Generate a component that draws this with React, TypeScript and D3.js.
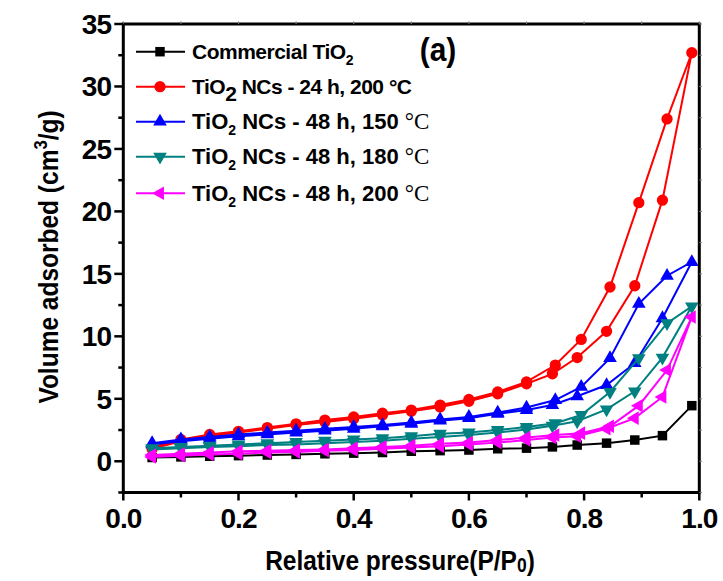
import * as d3 from "d3";

const W = 723;
const H = 581;

// relative pressure, adsorption branch (up) and desorption branch (down)
const adsP = [0.05, 0.1, 0.15, 0.2, 0.25, 0.3, 0.35, 0.4, 0.45, 0.5, 0.55, 0.6, 0.65, 0.7, 0.745, 0.788, 0.839, 0.888, 0.936, 0.987];
const desP = [0.944, 0.895, 0.845, 0.795, 0.75, 0.7, 0.65, 0.6, 0.55, 0.5, 0.45, 0.4, 0.35, 0.3, 0.25, 0.2, 0.15, 0.1, 0.05];

const commercialAds = [0.3, 0.35, 0.4, 0.45, 0.5, 0.55, 0.6, 0.65, 0.7, 0.8, 0.85, 0.9, 1.0, 1.05, 1.15, 1.3, 1.45, 1.7, 2.05, 4.45];

const nc24h200Ads = [1.0, 1.6, 2.0, 2.3, 2.6, 2.9, 3.15, 3.4, 3.7, 4.0, 4.35, 4.8, 5.4, 6.2, 7.0, 8.3, 10.4, 14.05, 20.9, 32.7];
const nc24h200Des = [27.4, 20.7, 13.95, 9.75, 7.7, 6.35, 5.55, 4.95, 4.5, 4.1, 3.85, 3.55, 3.3, 3.0, 2.7, 2.4, 2.15, 1.75, 1.1];

const nc48h150Ads = [1.35, 1.6, 1.8, 2.0, 2.15, 2.3, 2.45, 2.6, 2.8, 3.0, 3.25, 3.45, 3.8, 4.1, 4.5, 5.2, 6.1, 7.85, 11.45, 15.95];
const nc48h150Des = [14.85, 12.6, 8.25, 5.95, 4.9, 4.3, 3.9, 3.55, 3.35, 3.1, 2.9, 2.75, 2.6, 2.45, 2.3, 2.15, 1.95, 1.75, 1.45];

const nc48h180Ads = [0.95, 1.05, 1.15, 1.2, 1.3, 1.35, 1.45, 1.55, 1.65, 1.8, 1.95, 2.1, 2.3, 2.55, 2.85, 3.2, 4.15, 5.6, 8.3, 12.4];
const nc48h180Des = [11.05, 8.25, 5.55, 3.7, 3.05, 2.75, 2.5, 2.3, 2.2, 2.0, 1.85, 1.75, 1.65, 1.55, 1.45, 1.35, 1.25, 1.15, 1.05];

const nc48h200Ads = [0.35, 0.45, 0.55, 0.6, 0.7, 0.75, 0.85, 0.9, 1.0, 1.1, 1.2, 1.35, 1.5, 1.7, 1.9, 2.0, 2.6, 3.45, 5.15, 11.55];
const nc48h200Des = [7.3, 4.45, 2.8, 2.25, 2.1, 1.9, 1.7, 1.5, 1.4, 1.25, 1.15, 1.05, 0.95, 0.9, 0.85, 0.8, 0.7, 0.6, 0.5];

const xTickLabels = ["0.0", "0.2", "0.4", "0.6", "0.8", "1.0"];
const yTickLabels = ["0", "5", "10", "15", "20", "25", "30", "35"];

const FONT = "'Liberation Sans', Arial, sans-serif";

type Series = {
  name: string;
  ads: number[];
  des: number[];
  color: string;
  shape: d3.SymbolType;
  size: number;
  rotate: number;
};

const series: Series[] = [
  { name: "commercial", ads: commercialAds, des: [], color: "#000000", shape: d3.symbolSquare, size: 90, rotate: 0 },
  { name: "24h200", ads: nc24h200Ads, des: nc24h200Des, color: "#ff0000", shape: d3.symbolCircle, size: 100, rotate: 0 },
  { name: "48h150", ads: nc48h150Ads, des: nc48h150Des, color: "#0000ff", shape: d3.symbolTriangle, size: 80, rotate: 0 },
  { name: "48h180", ads: nc48h180Ads, des: nc48h180Des, color: "#008080", shape: d3.symbolTriangle, size: 80, rotate: 180 },
  { name: "48h200", ads: nc48h200Ads, des: nc48h200Des, color: "#ff00ff", shape: d3.symbolTriangle, size: 80, rotate: -90 },
];

function LegendLabel({ i }: { i: number }) {
  if (i === 0)
    return (
      <>
        Commercial TiO<tspan fontSize={14} dy={6}>2</tspan>
      </>
    );
  if (i === 1)
    return (
      <>
        TiO<tspan fontSize={21} dy={7}>2</tspan>
        <tspan dy={-7}> NCs - 24 h, 200 °C</tspan>
      </>
    );
  const temps = ["", "", "150", "180", "200"];
  return (
    <>
      TiO<tspan fontSize={14} dy={6}>2</tspan>
      <tspan dy={-6}> NCs - 48 h, {temps[i]} </tspan>
      <tspan fontFamily="'Liberation Serif', 'Times New Roman', serif" fontWeight="normal" fontSize={23}>°C</tspan>
    </>
  );
}

export default function App() {
  const left = 123.3, right = 699.3, top = 24, bottom = 492.5;
  const x = d3.scaleLinear().domain([0, 1]).range([left, right]);
  const y = d3.scaleLinear().domain([-2.5, 35]).range([bottom, top]);

  const line = d3.line<[number, number]>().x(d => x(d[0])).y(d => y(d[1]));

  const xMinor = d3.range(0, 1.0001, 0.1);
  const yMinor = d3.range(-2.5, 35.001, 2.5);

  const legendRows = [51.7, 86.7, 121.7, 156.7, 193.3];

  return (
    <svg width={W} height={H} style={{ position: "absolute", left: 0, top: 0, background: "#fff" }}>
      <rect x={0} y={0} width={W} height={H} fill="#fff" />

      {/* series */}
      {series.map(s => {
        const pts: [number, number][] = [
          ...s.ads.map((v, k) => [adsP[k], v] as [number, number]),
          ...s.des.map((v, k) => [desP[k], v] as [number, number]),
        ];
        const sym = d3.symbol().type(s.shape).size(s.size)();
        return (
          <g key={s.name}>
            <path d={line(pts) ?? ""} fill="none" stroke={s.color} strokeWidth={2} />
            {pts.map((p, k) => (
              <path
                key={k}
                d={sym ?? ""}
                transform={`translate(${x(p[0])},${y(p[1])}) rotate(${s.rotate})`}
                fill={s.color}
              />
            ))}
          </g>
        );
      })}

      {/* frame */}
      <rect x={left} y={top} width={right - left} height={bottom - top} fill="none" stroke="#000" strokeWidth={3} />

      {/* bottom / top ticks */}
      {xMinor.map((v, k) => (
        <line key={`bx${k}`} x1={x(v)} x2={x(v)} y1={bottom} y2={bottom + (k % 2 === 0 ? 8 : 5)} stroke="#000" strokeWidth={2.5} />
      ))}
      {xMinor.map((v, k) => (
        <line key={`tx${k}`} x1={x(v)} x2={x(v)} y1={top} y2={top - 2.5} stroke="#777" strokeWidth={1.2} />
      ))}
      {/* left / right ticks */}
      {yMinor.map((v, k) => (
        <line key={`ly${k}`} x1={left} x2={left - (k % 2 === 1 ? 9 : 5)} y1={y(v)} y2={y(v)} stroke="#000" strokeWidth={2.5} />
      ))}
      {yMinor.map((v, k) => (
        <line key={`ry${k}`} x1={right} x2={right + 2.5} y1={y(v)} y2={y(v)} stroke="#777" strokeWidth={1.2} />
      ))}

      {/* tick labels */}
      {xTickLabels.map(t => (
        <text key={t} x={x(+t)} y={528} textAnchor="middle" fontFamily={FONT} fontWeight="bold" fontSize={28} letterSpacing={-1}>
          {t}
        </text>
      ))}
      {yTickLabels.map(t => (
        <text key={t} x={111} y={y(+t) + 10} textAnchor="end" fontFamily={FONT} fontWeight="bold" fontSize={28} letterSpacing={-1}>
          {t}
        </text>
      ))}

      {/* axis titles */}
      <text transform="translate(400,570) scale(0.875,1)" textAnchor="middle" fontFamily={FONT} fontWeight="bold" fontSize={28}>
        Relative pressure(P/P<tspan fontSize={20} dy={2}>0</tspan><tspan dy={-2}>)</tspan>
      </text>
      <text transform="translate(58,257) rotate(-90) scale(0.875,1)" textAnchor="middle" fontFamily={FONT} fontWeight="bold" fontSize={28}>
        Volume adsorbed (cm<tspan fontSize={19} dy={-11}>3</tspan><tspan dy={11}>/g)</tspan>
      </text>

      {/* panel label */}
      <text transform="translate(438,61) scale(0.88,1)" textAnchor="middle" fontFamily={FONT} fontWeight="bold" fontSize={34}>
        (a)
      </text>

      {/* legend */}
      {series.map((s, i) => {
        const sym = d3.symbol().type(s.shape).size(s.size)();
        const ly = legendRows[i];
        return (
          <g key={`leg${i}`}>
            <line x1={136} x2={185} y1={ly} y2={ly} stroke={s.color} strokeWidth={2} />
            <path d={sym ?? ""} transform={`translate(160,${ly}) rotate(${s.rotate})`} fill={s.color} />
            <text
              x={192}
              y={ly + 7.5}
              fontFamily={FONT}
              fontWeight="bold"
              fontSize={i >= 2 ? 22 : 21}
              letterSpacing={i >= 2 ? 0 : -0.5}
            >
              <LegendLabel i={i} />
            </text>
          </g>
        );
      })}
    </svg>
  );
}
